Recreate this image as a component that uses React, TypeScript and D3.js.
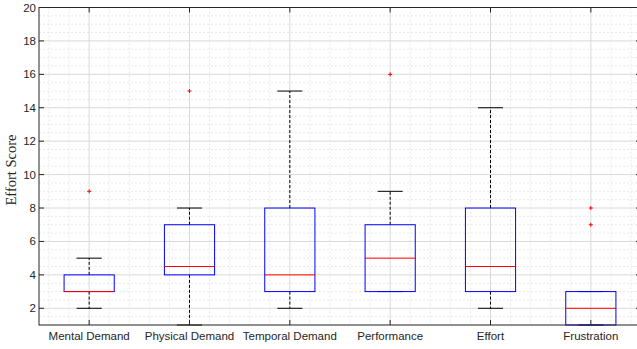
import React from "react";
import * as d3 from "d3";

const categories = ["Mental Demand", "Physical Demand", "Temporal Demand", "Performance", "Effort", "Frustration"];
const whiskerLow = [2, 1, 2, 3, 2, 1];
const q1 = [3, 4, 3, 3, 3, 1];
const medians = [3, 4.5, 4, 5, 4.5, 2];
const q3 = [4, 7, 8, 7, 8, 3];
const whiskerHigh = [5, 8, 15, 9, 14, 3];
const outliers: number[][] = [[9], [15], [], [16], [], [7, 8]];
const yTicks = [2, 4, 6, 8, 10, 12, 14, 16, 18, 20];

const W = 637;
const H = 349;
const left = 39;
const right = 641;
const top = 7.5;
const bottom = 325;
const axisColor = "#262626";

export default function App() {
  const x = d3.scaleLinear().domain([0.5, categories.length + 0.5]).range([left, right]);
  const y = d3.scaleLinear().domain([1, 20]).range([bottom, top]);
  const unit = x(1) - x(0);
  const boxW = unit * 0.5;
  const capW = unit * 0.25;

  const minorX = d3.range(0.6, categories.length + 0.5, 0.2).filter((v) => Math.abs(v - Math.round(v)) > 0.01);
  const minorY = d3.range(1, 20.01, 0.5).filter((v) => Math.abs(v / 2 - Math.round(v / 2)) > 0.01);

  return (
    <svg width={W} height={H} style={{ position: "absolute", left: 0, top: 0, background: "#fff" }}>
      <rect x={0} y={0} width={W} height={H} fill="#fff" />
      {/* minor grid */}
      {minorX.map((v, i) => (
        <line key={"mx" + i} x1={x(v)} x2={x(v)} y1={top} y2={bottom} stroke="#e3e3e3" strokeWidth={0.8} strokeDasharray="2,2" />
      ))}
      {minorY.map((v, i) => (
        <line key={"my" + i} x1={left} x2={right} y1={y(v)} y2={y(v)} stroke="#e3e3e3" strokeWidth={0.8} strokeDasharray="2,2" />
      ))}
      {/* major grid */}
      {categories.map((c, i) => (
        <line key={"gx" + c} x1={x(i + 1)} x2={x(i + 1)} y1={top} y2={bottom} stroke="#dadada" strokeWidth={1} />
      ))}
      {yTicks.map((t) => (
        <line key={"gy" + t} x1={left} x2={right} y1={y(t)} y2={y(t)} stroke="#dadada" strokeWidth={1} />
      ))}

      {/* boxes */}
      {categories.map((c, i) => {
        const cx = x(i + 1);
        return (
          <g key={"b" + c}>
            <line x1={cx} x2={cx} y1={y(q3[i])} y2={y(whiskerHigh[i])} stroke="#000" strokeWidth={1} strokeDasharray="3,2" />
            <line x1={cx} x2={cx} y1={y(q1[i])} y2={y(whiskerLow[i])} stroke="#000" strokeWidth={1} strokeDasharray="3,2" />
            <line x1={cx - capW / 2} x2={cx + capW / 2} y1={y(whiskerHigh[i])} y2={y(whiskerHigh[i])} stroke="#000" strokeWidth={1} />
            <line x1={cx - capW / 2} x2={cx + capW / 2} y1={y(whiskerLow[i])} y2={y(whiskerLow[i])} stroke="#000" strokeWidth={1} />
            <rect x={cx - boxW / 2} y={y(q3[i])} width={boxW} height={y(q1[i]) - y(q3[i])} fill="none" stroke="#0000ff" strokeWidth={1} />
            <line x1={cx - boxW / 2} x2={cx + boxW / 2} y1={y(medians[i])} y2={y(medians[i])} stroke="#ff0000" strokeWidth={1} />
            {outliers[i].map((o, j) => (
              <g key={"o" + j} stroke="#ff0000" strokeWidth={1}>
                <line x1={cx - 2} x2={cx + 2} y1={y(o)} y2={y(o)} />
                <line x1={cx} x2={cx} y1={y(o) - 2} y2={y(o) + 2} />
              </g>
            ))}
          </g>
        );
      })}

      {/* axes frame */}
      <rect x={left} y={top} width={right - left} height={bottom - top} fill="none" stroke={axisColor} strokeWidth={1} />
      {yTicks.map((t) => (
        <g key={"yt" + t}>
          <line x1={left} x2={left + 5} y1={y(t)} y2={y(t)} stroke={axisColor} />
          <line x1={right} x2={right - 5} y1={y(t)} y2={y(t)} stroke={axisColor} />
          <text x={left - 3} y={y(t)} dy="0.35em" textAnchor="end" fontFamily="Liberation Sans, Arial, sans-serif" fontSize={11.5} fill={axisColor}>
            {t}
          </text>
        </g>
      ))}
      {categories.map((c, i) => (
        <g key={"xt" + c}>
          <line x1={x(i + 1)} x2={x(i + 1)} y1={bottom} y2={bottom - 5} stroke={axisColor} />
          <line x1={x(i + 1)} x2={x(i + 1)} y1={top} y2={top + 5} stroke={axisColor} />
          <text x={x(i + 1)} y={bottom + 15} textAnchor="middle" fontFamily="Liberation Sans, Arial, sans-serif" fontSize={11.5} fill={axisColor}>
            {c}
          </text>
        </g>
      ))}
      <text
        transform={`translate(16, 170) rotate(-90)`}
        textAnchor="middle"
        fontFamily="Liberation Serif, Times New Roman, serif"
        fontSize={14.5}
        fill={axisColor}
      >
        Effort Score
      </text>
    </svg>
  );
}
